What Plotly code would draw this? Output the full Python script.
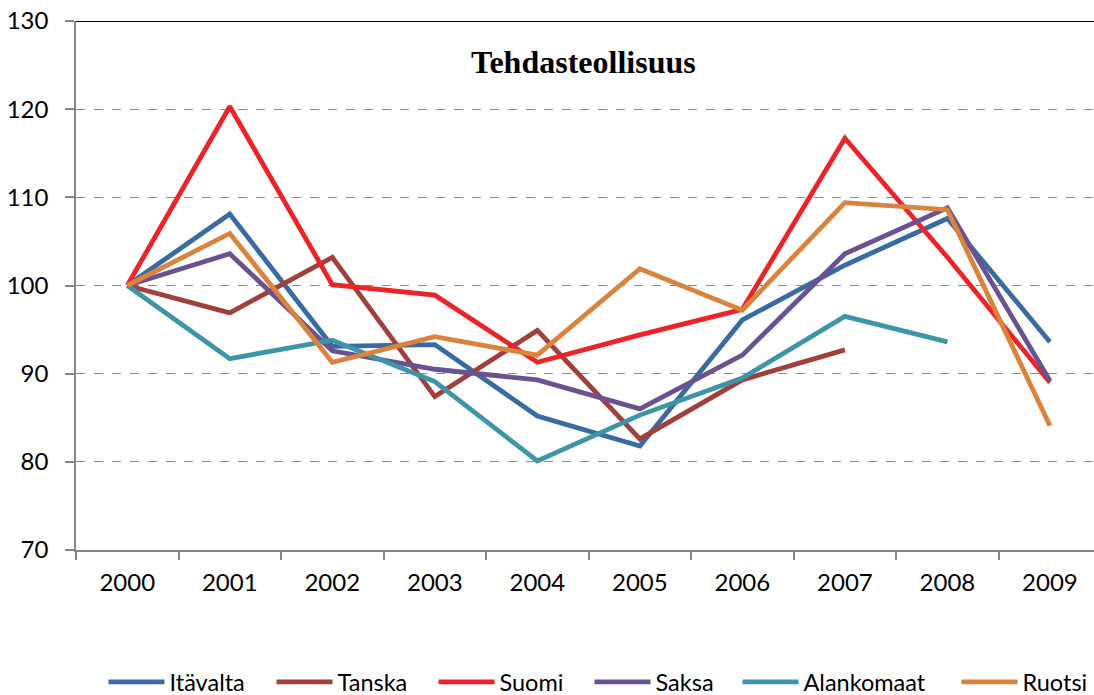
import plotly.graph_objects as go

years = ["2000", "2001", "2002", "2003", "2004", "2005", "2006", "2007", "2008", "2009"]
itavalta = [100, 108.1, 93.1, 93.3, 85.2, 81.8, 96.1, 102.3, 107.6, 93.6]
tanska = [100, 96.9, 103.2, 87.4, 94.9, 82.6, 89.3, 92.7, None, None]
suomi = [100, 120.3, 100.1, 98.9, 91.3, 94.4, 97.3, 116.7, 103.2, 89.0]
saksa = [100, 103.6, 92.6, 90.5, 89.3, 86.0, 92.1, 103.6, 108.8, 89.2]
alankomaat = [100, 91.7, 93.8, 89.1, 80.1, 85.3, 89.5, 96.5, 93.6, None]
ruotsi = [100, 105.9, 91.3, 94.2, 92.1, 101.9, 97.2, 109.4, 108.6, 84.1]

series = [
    ("Itävalta", itavalta, "#376BA2"),
    ("Tanska", tanska, "#A13F3C"),
    ("Suomi", suomi, "#EE2327"),
    ("Saksa", saksa, "#6A5290"),
    ("Alankomaat", alankomaat, "#3F95A8"),
    ("Ruotsi", ruotsi, "#D9833C"),
]

# legend entry left edges (pixels in the page), one legend per series
legend_left_px = [103.5, 271.5, 433.5, 589.5, 737.5, 956.5]

W, H = 1094, 695
ML, MR, MT, MB = 76, 0, 21, 145
plot_w = W - ML - MR
plot_h = H - MT - MB

font_family = "Lato"
fig = go.Figure()
legend_layouts = {}
for i, (name, vals, col) in enumerate(series):
    key = "legend" if i == 0 else f"legend{i + 1}"
    fig.add_trace(go.Scatter(x=years, y=vals, name=name, mode="lines",
                             line=dict(color=col, width=4.8), legend=key))
    legend_layouts[key] = dict(
        orientation="h", x=(legend_left_px[i] - ML) / plot_w, xanchor="left",
        y=(MT + plot_h - 682) / plot_h, yanchor="middle", itemwidth=56,
        bgcolor="rgba(0,0,0,0)", font=dict(size=23.5, family=font_family, color="black"))

fig.update_layout(
    width=W, height=H,
    margin=dict(l=ML, r=MR, t=MT, b=MB, autoexpand=False),
    plot_bgcolor="white", paper_bgcolor="white",
    font=dict(family=font_family, size=24, color="black"),
    showlegend=True,
    xaxis=dict(type="category", range=[-0.5, 9.43], tickson="boundaries",
               ticks="outside", ticklen=8, tickcolor="#868686", tickwidth=1.5,
               showline=True, linecolor="#868686", linewidth=1.5,
               showgrid=False, ticklabelstandoff=10, automargin=False),
    yaxis=dict(range=[70, 130], tickvals=[70, 80, 90, 100, 110, 120, 130],
               ticks="outside", ticklen=9, tickcolor="#868686", tickwidth=1.5,
               showline=True, linecolor="#868686", linewidth=1.5,
               showgrid=True, gridcolor="#8C8C8C", gridwidth=1.3, griddash="dash",
               zeroline=False, ticklabelstandoff=12, automargin=False),
    shapes=[dict(type="line", xref="paper", yref="y", x0=0, x1=1, y0=130, y1=130,
                 line=dict(color="black", width=2))],
    annotations=[dict(text="<b>Tehdasteollisuus</b>", xref="paper", yref="paper",
                      x=0.499, y=0.922, showarrow=False, xanchor="center", yanchor="middle",
                      font=dict(family="Liberation Serif", size=32, color="black"))],
)
fig.update_layout(**legend_layouts)

fig.write_html("out.html", config={"displayModeBar": False},
               post_script="document.body.style.margin='0';")
